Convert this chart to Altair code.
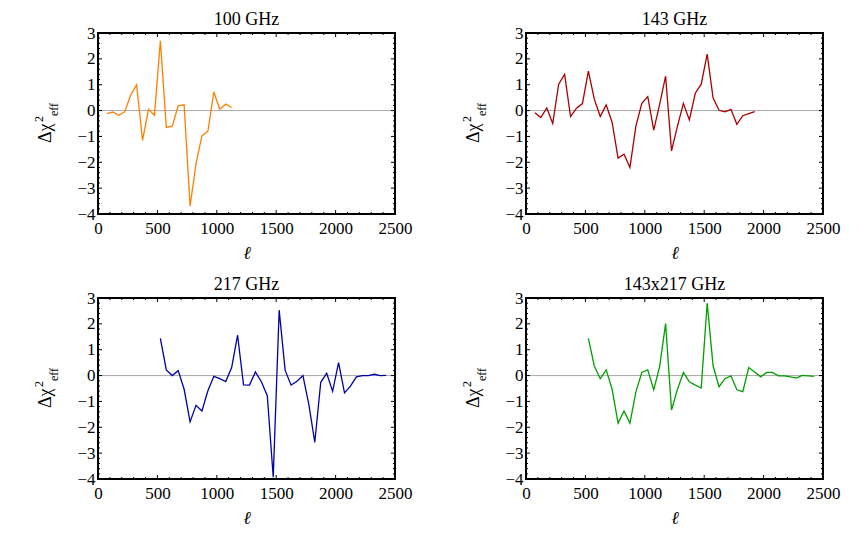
import altair as alt
import pandas as pd

# ---- data ----
ELL_100 = list(range(75, 1126, 50))
CHI_100 = [-0.12, -0.05, -0.18, -0.05, 0.6, 1.0, -1.15, 0.05, -0.18, 2.7, -0.65,
           -0.6, 0.18, 0.22, -3.7, -2.05, -0.98, -0.8, 0.72, 0.05, 0.25, 0.12]

ELL_143 = list(range(75, 1926, 50))
CHI_143 = [-0.08, -0.27, 0.1, -0.5, 1.02, 1.4, -0.23, 0.09, 0.27, 1.53, 0.44,
           -0.23, 0.22, -0.46, -1.84, -1.69, -2.2, -0.6, 0.28, 0.54, -0.76, 0.24,
           1.33, -1.56, -0.6, 0.28, -0.36, 0.67, 1.02, 2.18, 0.48, 0.01, -0.05,
           0.05, -0.53, -0.2, -0.12, -0.04]

ELL_217 = list(range(525, 2426, 50))
CHI_217 = [1.44, 0.22, 0.0, 0.19, -0.53, -1.79, -1.15, -1.37, -0.59, -0.03,
           -0.12, -0.23, 0.31, 1.56, -0.36, -0.37, 0.14, -0.24, -0.78, -3.93,
           2.53, 0.21, -0.37, -0.22, 0.0, -1.12, -2.58, -0.26, 0.09, -0.61,
           0.5, -0.67, -0.41, -0.05, 0.0, 0.0, 0.05, 0.0, 0.01]

ELL_X = list(range(525, 2426, 50))
CHI_X = [1.44, 0.37, -0.12, 0.22, -0.53, -1.84, -1.37, -1.84, -0.63, 0.12,
         0.22, -0.55, 0.35, 2.01, -1.33, -0.53, 0.12, -0.24, -0.37, -0.48,
         2.8, 0.37, -0.43, -0.12, -0.01, -0.55, -0.62, 0.31, 0.14, -0.05,
         0.12, 0.12, -0.01, -0.01, -0.05, -0.1, 0.01, -0.01, -0.03]

TITLES = ["100 GHz", "143 GHz", "217 GHz", "143x217 GHz"]
COLORS = ["#FF8000", "#AA0000", "#0000AA", "#00A000"]

X_MAJOR = [0, 500, 1000, 1500, 2000, 2500]
X_MINOR = [100, 200, 300, 400, 600, 700, 800, 900, 1100, 1200, 1300, 1400,
           1600, 1700, 1800, 1900, 2100, 2200, 2300, 2400]
Y_MAJOR = [-4, -3, -2, -1, 0, 1, 2, 3]
Y_MINOR = [-3.8, -3.6, -3.4, -3.2, -2.8, -2.6, -2.4, -2.2, -1.8, -1.6, -1.4,
           -1.2, -0.8, -0.6, -0.4, -0.2, 0.2, 0.4, 0.6, 0.8, 1.2, 1.4, 1.6,
           1.8, 2.2, 2.4, 2.6, 2.8]

W, H = 297, 181
FONT = "Liberation Serif"
MAJ, MIN = 4, 2

XS = alt.Scale(domain=[0, 2500], nice=False, zero=False)
YS = alt.Scale(domain=[-4, 3], nice=False, zero=False)


def xenc():
    return alt.X("ell:Q", scale=XS,
                 axis=alt.Axis(values=X_MAJOR, format="d", title="ℓ", ticks=False,
                               domain=False, grid=False, labelPadding=6,
                               titlePadding=8, labelFlush=False, labelOverlap=False,
                               labelFont=FONT, labelFontSize=17, labelColor="black",
                               titleFont=FONT, titleFontSize=18, titleFontStyle="italic",
                               titleFontWeight="normal", titleColor="black"))


def yenc():
    return alt.Y("chi:Q", scale=YS,
                 axis=alt.Axis(values=Y_MAJOR, format="d", title=None, ticks=False,
                               domain=False, grid=False, labelPadding=3,
                               labelFlush=False, labelOverlap=False,
                               labelFont=FONT, labelFontSize=17, labelColor="black"))


def panel(title, ell, chi, color):
    df = pd.DataFrame({"ell": ell, "chi": chi})
    zero = alt.Chart(pd.DataFrame({"chi": [0]})).mark_rule(
        color="#a8a8a8", strokeWidth=1).encode(y=yenc())
    line = alt.Chart(df).mark_line(color=color, strokeWidth=1.3, clip=True).encode(
        x=xenc(), y=yenc())

    xmaj = pd.DataFrame({"ell": X_MAJOR})
    xmin = pd.DataFrame({"ell": X_MINOR})
    ymaj = pd.DataFrame({"chi": Y_MAJOR})
    ymin = pd.DataFrame({"chi": Y_MINOR})
    tk = dict(color="black", strokeWidth=1)
    ticks = [
        alt.Chart(xmaj).mark_rule(**tk).encode(x=xenc(), y=alt.value(H), y2=alt.value(H - MAJ)),
        alt.Chart(xmaj).mark_rule(**tk).encode(x=xenc(), y=alt.value(0), y2=alt.value(MAJ)),
        alt.Chart(xmin).mark_rule(**tk).encode(x=xenc(), y=alt.value(H), y2=alt.value(H - MIN)),
        alt.Chart(xmin).mark_rule(**tk).encode(x=xenc(), y=alt.value(0), y2=alt.value(MIN)),
        alt.Chart(ymaj).mark_rule(**tk).encode(y=yenc(), x=alt.value(0), x2=alt.value(MAJ)),
        alt.Chart(ymaj).mark_rule(**tk).encode(y=yenc(), x=alt.value(W), x2=alt.value(W - MAJ)),
        alt.Chart(ymin).mark_rule(**tk).encode(y=yenc(), x=alt.value(0), x2=alt.value(MIN)),
        alt.Chart(ymin).mark_rule(**tk).encode(y=yenc(), x=alt.value(W), x2=alt.value(W - MIN)),
    ]
    one = pd.DataFrame({"k": [0]})
    lab_main = alt.Chart(one).mark_text(
        text="Δχ", angle=270, align="left", baseline="alphabetic", font=FONT,
        fontSize=18, color="black").encode(x=alt.value(-47), y=alt.value(110))
    lab_sup = alt.Chart(one).mark_text(
        text="2", angle=270, align="left", baseline="alphabetic", font=FONT,
        fontSize=12, color="black").encode(x=alt.value(-55), y=alt.value(89))
    lab_sub = alt.Chart(one).mark_text(
        text="eff", angle=270, align="left", baseline="alphabetic", font=FONT,
        fontSize=12, color="black").encode(x=alt.value(-40), y=alt.value(83))

    return alt.layer(zero, line, *ticks, lab_main, lab_sup, lab_sub).properties(
        width=W, height=H,
        title=alt.TitleParams(title, font=FONT, fontSize=18, fontWeight="normal",
                              color="black", offset=-5, anchor="middle",
                              frame="group"))


panels = [panel(t, e, c, col) for t, e, c, col in zip(
    TITLES, [ELL_100, ELL_143, ELL_217, ELL_X], [CHI_100, CHI_143, CHI_217, CHI_X], COLORS)]

chart = alt.concat(*panels, columns=2, spacing={"row": 84, "column": 131},
                   bounds="flush").properties(
    padding={"left": 24, "top": 2, "right": 5, "bottom": 5}
).configure_view(stroke="black", strokeWidth=2).configure_axis(
    labelFont=FONT, labelFontSize=17, labelColor="black",
    titleFont=FONT, titleFontSize=18, titleFontWeight="normal", titleColor="black"
).configure_title(font=FONT)

chart.save("out.html", embed_options={"renderer": "svg", "actions": False})
